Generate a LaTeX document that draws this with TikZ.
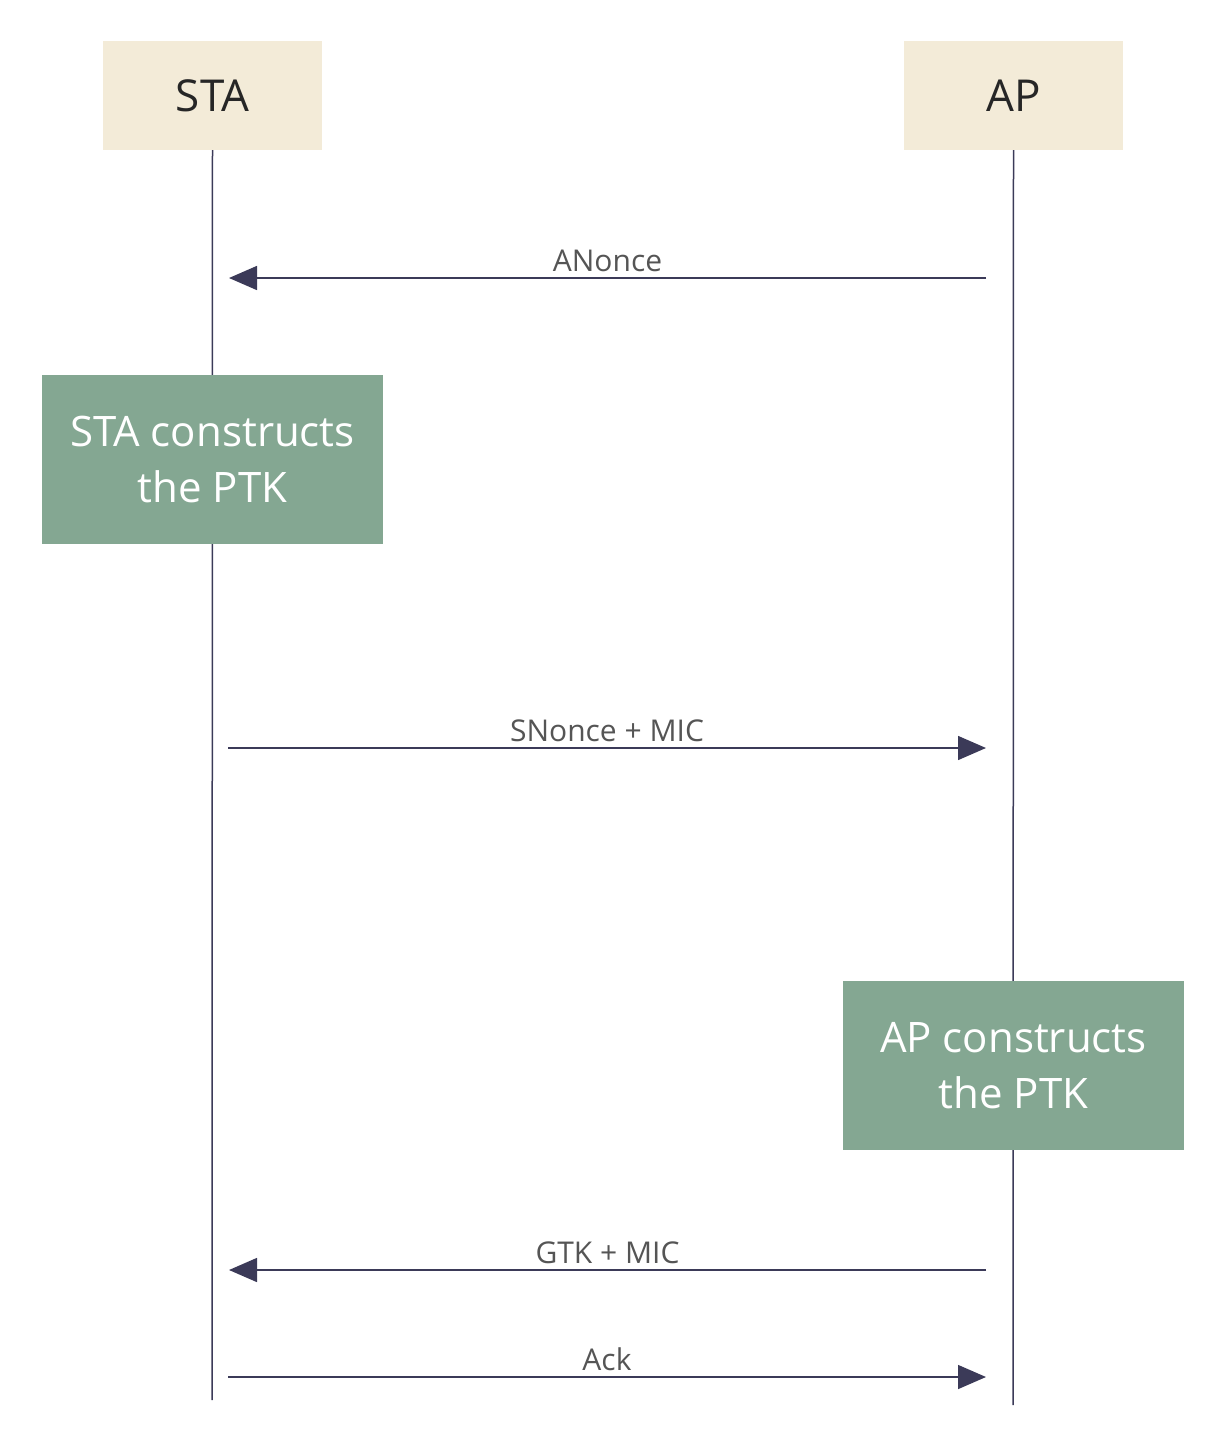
\documentclass[tikz,border=0pt]{standalone}
\usepackage{fontspec}
\setmainfont{Open Sans}
\usetikzlibrary{arrows.meta}
\definecolor{hdr}{HTML}{F3EBD8}
\definecolor{grn}{HTML}{84A792}
\definecolor{ln}{HTML}{3B3A58}
\definecolor{txt}{HTML}{555555}
\tikzset{
  hdrbox/.style={fill=hdr,minimum width=219pt,minimum height=109pt,font=\fontsize{44}{50}\selectfont,text=black!85},
  actbox/.style={fill=grn,minimum width=341pt,minimum height=169pt,font=\fontsize{42}{56}\selectfont,text=white,align=center},
  msg/.style={draw=ln,line width=1.5pt,-{Triangle[length=28pt,width=24pt]}},
  life/.style={draw=ln,line width=1.5pt},
  lbl/.style={font=\fontsize{30}{34}\selectfont,text=txt}
}
\begin{document}
\begin{tikzpicture}[x=1pt,y=-1pt]
\useasboundingbox (0,0) rectangle (1226,1446);
\coordinate (staend) at (212,1400);
\coordinate (apend) at (1013,1405);
\node[hdrbox] (sta) at (212.5,95.5) {STA};
\node[hdrbox] (ap) at (1013.5,95.5) {AP};
\draw[life] (sta.south) -- (staend);
\draw[life] (ap.south) -- (apend);
\node[actbox] (stab) at (212.5,459.5) {STA constructs\\the PTK};
\node[actbox] (apb) at (1013.5,1065.5) {AP constructs\\the PTK};
\coordinate (a1) at (986,278); \coordinate (a2) at (229,278);
\coordinate (b1) at (228,748); \coordinate (b2) at (986,748);
\coordinate (c1) at (986,1270); \coordinate (c2) at (229,1270);
\coordinate (d1) at (228,1377); \coordinate (d2) at (986,1377);
\draw[msg] (a1) -- node[lbl,above=2pt] {ANonce} (a2);
\draw[msg] (b1) -- node[lbl,above=2pt] {SNonce + MIC} (b2);
\draw[msg] (c1) -- node[lbl,above=2pt] {GTK + MIC} (c2);
\draw[msg] (d1) -- node[lbl,above=2pt] {Ack} (d2);
\end{tikzpicture}
\end{document}
